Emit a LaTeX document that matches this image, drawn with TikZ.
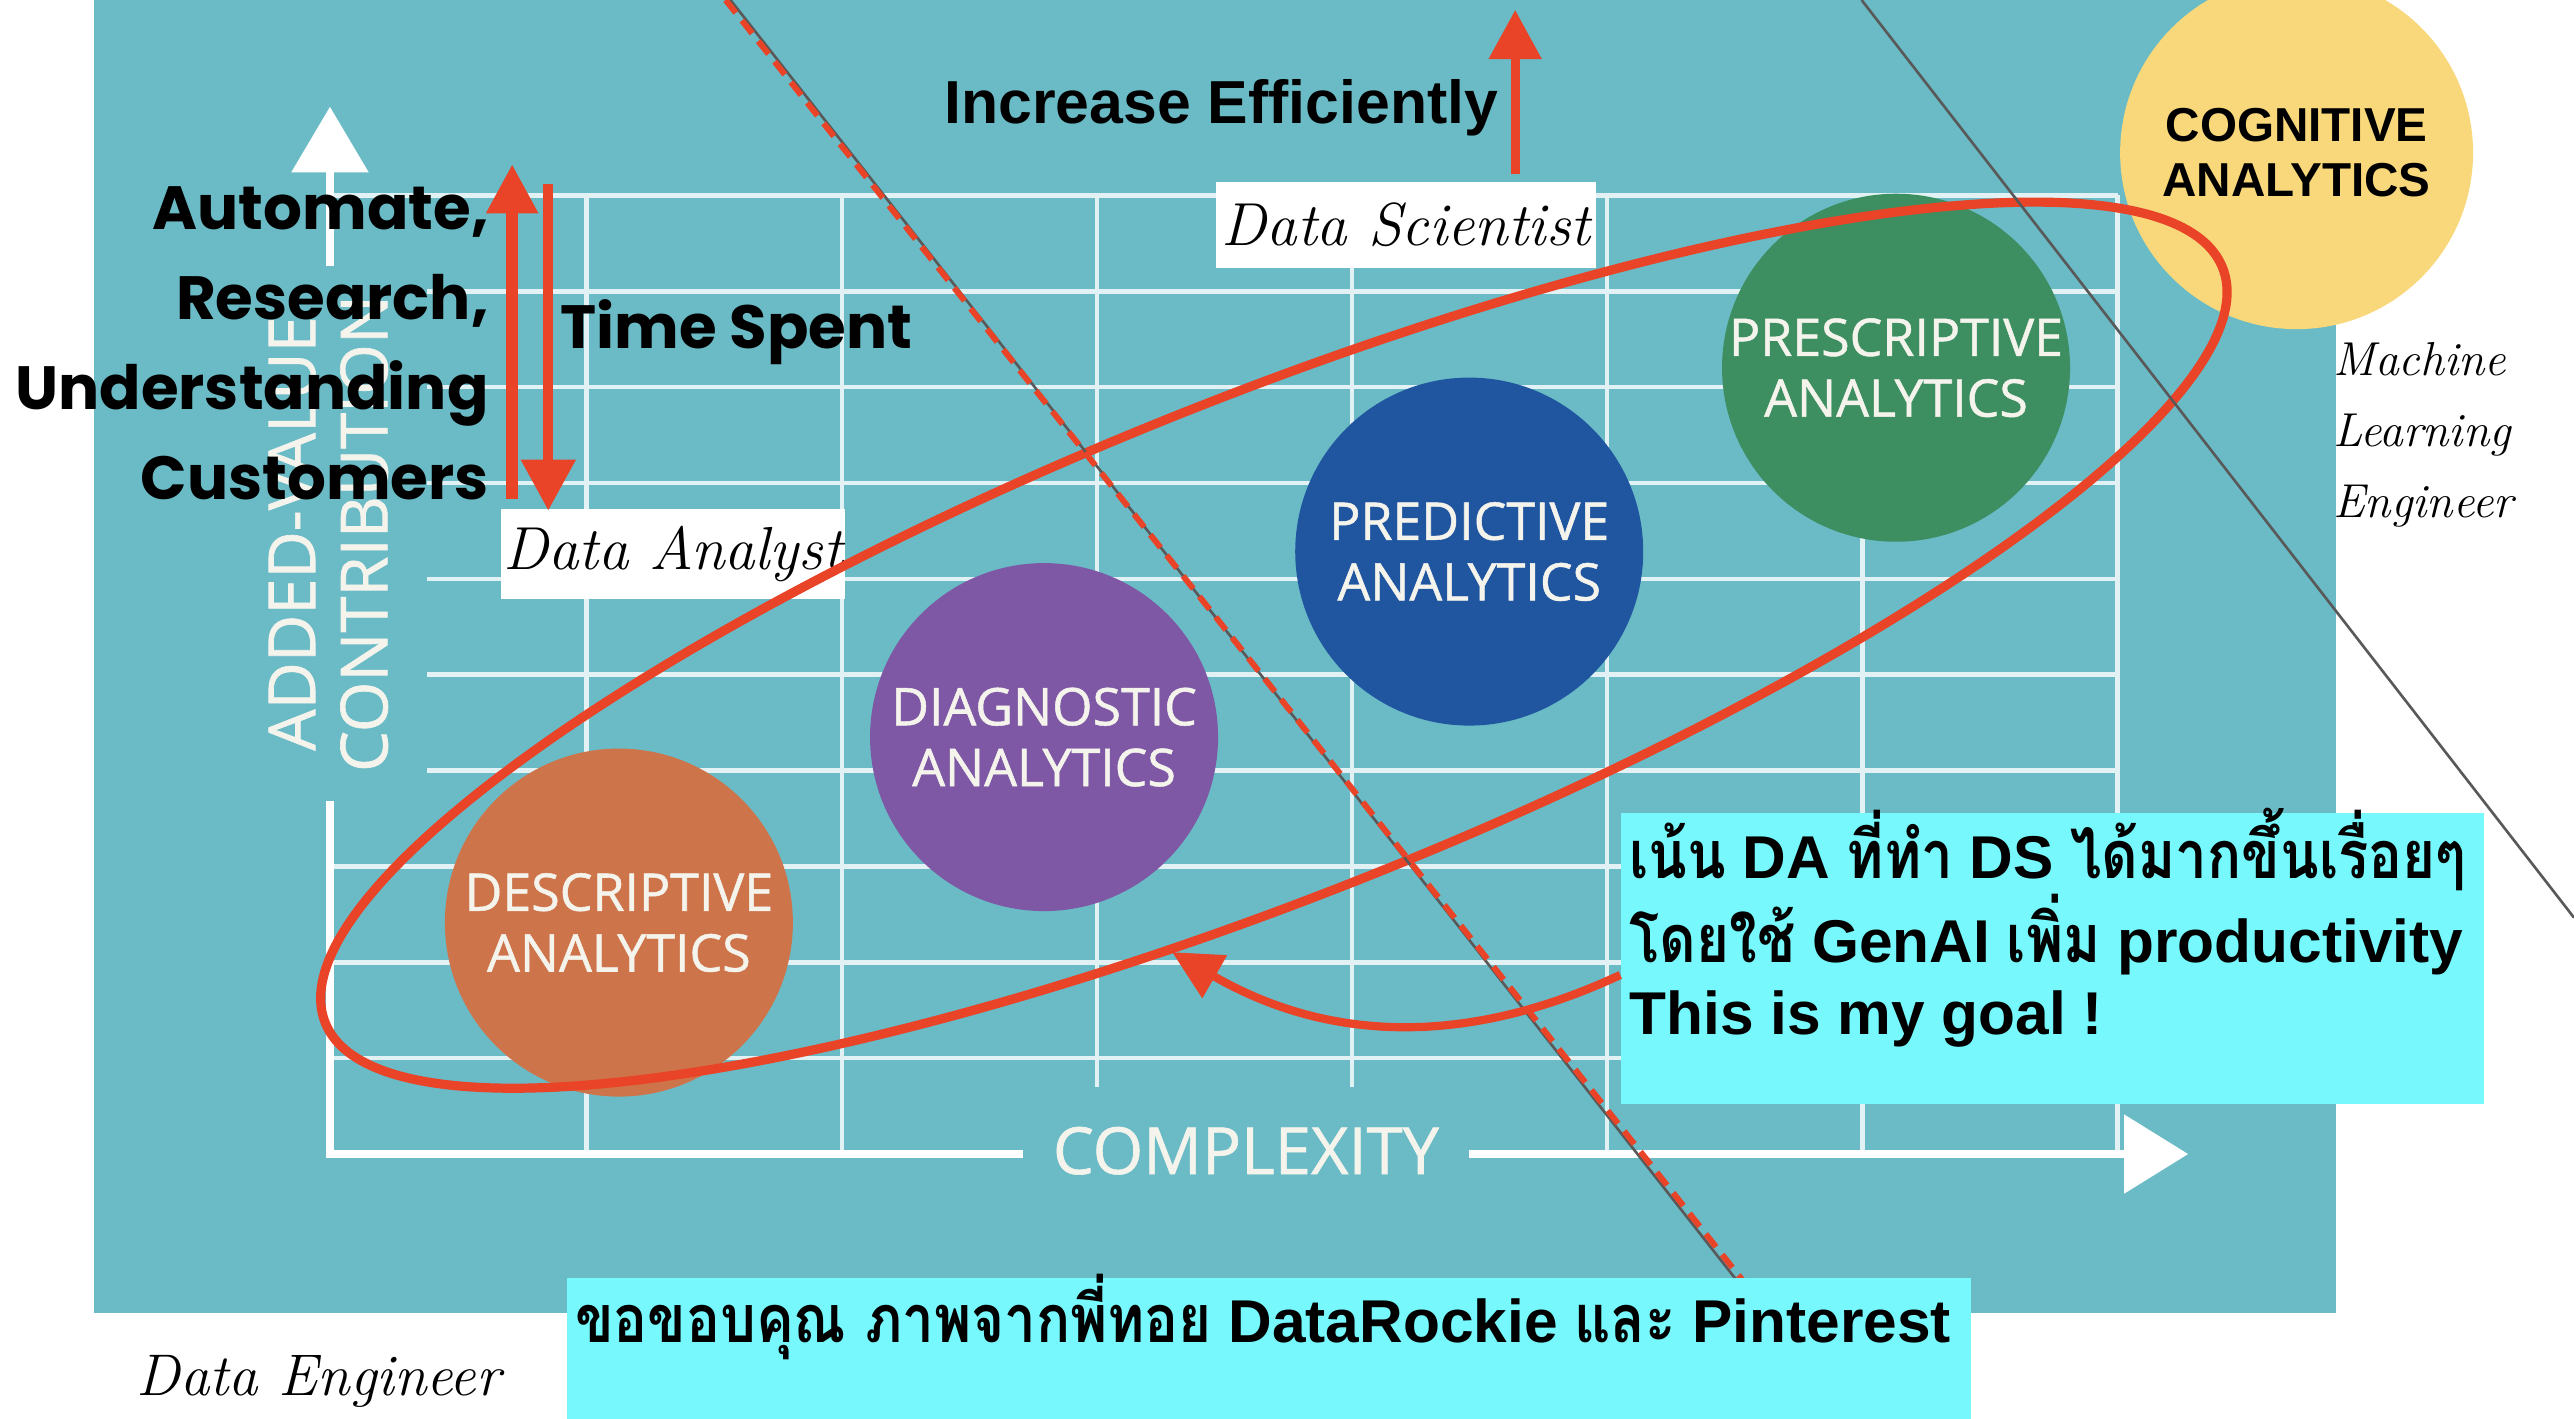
\documentclass[tikz,border=0pt]{standalone}
\usepackage{fontspec}
\usepackage{tikz}
\usetikzlibrary{arrows.meta, positioning}
\newfontfamily\popfont{Poppins}
\newfontfamily\arialfont{Liberation Sans}
\newfontfamily\chartfont[FakeBold=1]{Open Sans}
\newfontfamily\thaifont[Script=Thai, Scale=1.1, FakeStretch=0.85]{Loma}
\newcommand{\thaitxt}[1]{{\thaifont\bfseries #1}}
\definecolor{tealbg}{RGB}{106,187,198}
\definecolor{descorange}{RGB}{206,116,74}
\definecolor{diagpurple}{RGB}{126,88,164}
\definecolor{predblue}{RGB}{32,86,160}
\definecolor{prescgreen}{RGB}{61,142,96}
\definecolor{cogyellow}{RGB}{248,216,122}
\definecolor{markred}{RGB}{233,67,40}
\definecolor{notecyan}{RGB}{118,248,252}
\definecolor{chalk}{RGB}{244,243,236}

\begin{document}
\begin{tikzpicture}[x=0.5pt, y=-0.5pt,
    gridline/.style={draw=white!80!tealbg, line width=1.4pt},
    axisline/.style={draw=white, line width=2.4pt},
    axislabel/.style={fill=tealbg, text=chalk, align=center, font=\chartfont\fontsize{19.8}{22}\selectfont, inner xsep=9pt, inner ysep=12pt},
    bubble/.style={circle, minimum size=106pt, inner sep=0pt, align=center, text=chalk, font=\chartfont\fontsize{15.8}{18.5}\selectfont},
    goalring/.style={draw=markred, line width=2.8pt},
    redarr/.style={draw=markred, line width=3.5pt, -{Triangle[length=15pt, width=15pt]}},
    bendarr/.style={draw=markred, line width=2.5pt, -{Triangle[length=15pt, width=14.5pt]}},
    cutline/.style={draw=black!65, line width=0.8pt},
    cutdash/.style={draw=markred, line width=1.8pt, dash pattern=on 5pt off 3pt},
    popbold/.style={font=\popfont\bfseries\fontsize{18.6}{27.5}\selectfont, inner sep=0pt},
    arialbold/.style={font=\arialfont\bfseries\fontsize{18.5}{22}\selectfont, inner sep=0pt},
    hand/.style={font=\itshape\fontsize{18.5}{21.7}\selectfont, inner sep=0pt},
    namebox/.style={hand, fill=white},
    notebox/.style={fill=notecyan, inner sep=0pt, anchor=north west, font=\arialfont\bfseries\fontsize{18.4}{22}\selectfont}
]
    \useasboundingbox (0,0) rectangle (1568,864);
    \fill[white] (0,0) rectangle (1568,864);
    \fill[tealbg] (57,0) rectangle (1423,800);

    \foreach \row in {0,...,9}
        \draw[gridline] (202,{119+58.4*\row}) -- (1290,{119+58.4*\row});
    \foreach \col in {1,...,7}
        \draw[gridline] ({202+155.4*\col},119) -- ({202+155.4*\col},703);

    \coordinate (yaxtop) at (201,65);
    \coordinate (yaxbot) at (201,703);
    \coordinate (xaxend) at (1333,703);
    \draw[axisline, {Triangle[length=20pt, width=23pt]}-{Triangle[length=19.5pt, width=23.5pt]}] (yaxtop) -- (yaxbot) -- (xaxend);
    \node[axislabel, rotate=90] (yaxlbl) at (200,325) {ADDED-VALUE\\CONTRIBUTION};
    \node[axislabel] (xaxlbl) at (759,701) {COMPLEXITY};

    \node[bubble, fill=descorange] (desc) at (377,562) {DESCRIPTIVE\\ANALYTICS};
    \node[bubble, fill=diagpurple] (diag) at (636,449) {DIAGNOSTIC\\ANALYTICS};
    \node[bubble, fill=predblue] (pred) at (895,336) {PREDICTIVE\\ANALYTICS};
    \node[bubble, fill=prescgreen] (presc) at (1155,224) {PRESCRIPTIVE\\ANALYTICS};
    \node[bubble, fill=cogyellow, minimum size=107.5pt, text=black, font=\arialfont\bfseries\fontsize{14.5}{16.5}\selectfont] (cog) at (1399,93) {COGNITIVE\\ANALYTICS};

    \node[namebox, minimum width=115.5pt, minimum height=26pt] (sci) at (856.5,137) {Data Scientist};
    \node[namebox, minimum width=105pt, minimum height=27.5pt] (analyst) at (410,337.5) {Data Analyst};
    \node[hand, anchor=base west, font=\itshape\fontsize{17.9}{21}\selectfont] (deng) at (83,850) {Data Engineer};
    \node[hand, align=left, anchor=north west, font=\itshape\fontsize{14.5}{21.7}\selectfont] (mle) at (1421,208) {Machine\\Learning\\Engineer};

    \draw[goalring, rotate around={21.7:(776,393)}] (776,393) ellipse [x radius=311pt, y radius=76pt];

    \coordinate (cutatop) at (445,0);
    \coordinate (cutabot) at (1058,780);
    \draw[cutline] (cutatop) -- (cutabot);
    \draw[cutdash] ([xshift=-1.5pt]cutatop) -- ([xshift=1.8pt]cutabot);
    \coordinate (cutbtop) at (1134,0);
    \coordinate (cutbbot) at (1568,559);
    \draw[cutline] (cutbtop) -- (cutbbot);

    \node[popbold, align=right, anchor=north east] (focus) at (298,113) {Automate,\\Research,\\Understanding\\Customers};
    \node[popbold, anchor=base west] (timespent) at (341,212) {Time Spent};
    \node[arialbold, anchor=base east] (effi) at (913,75) {Increase Efficiently};

    \coordinate (focuslo) at (312,304);
    \coordinate (focushi) at (312,100);
    \draw[redarr] (focuslo) -- (focushi);
    \coordinate (timehi) at (334,112);
    \coordinate (timelo) at (334,311);
    \draw[redarr, line width=3pt, -{Triangle[length=15.5pt, width=16pt]}] (timehi) -- (timelo);
    \coordinate (effilo) at (923,106);
    \coordinate (effihi) at (923,6);
    \draw[redarr, line width=2.7pt, -{Triangle[length=15pt, width=15.5pt]}] (effilo) -- (effihi);

    \node[notebox, minimum width=263pt, minimum height=88.5pt] (goal) at (987,495) {\parbox[c][88.5pt][t]{263pt}{\vspace*{-1.7pt}%
        \hbox{\kern-3pt\thaitxt{เน้น} DA \thaitxt{ที่ทำ} DS \thaitxt{ได้มากขึ้นเรื่อยๆ}}
        \hbox{\kern-3pt\thaitxt{โดยใช้} GenAI \thaitxt{เพิ่ม} productivity}
        \hbox{\kern-3pt This is my goal !}}};
    \node[notebox, minimum width=427.5pt, minimum height=46pt] (thanks) at (345,778) {\parbox[c][46pt][t]{427.5pt}{\vspace*{-1.2pt}%
        \hbox{\kern-3.5pt\thaitxt{ขอขอบคุณ ภาพจากพี่ทอย} DataRockie \thaitxt{และ} Pinterest}}};

    \coordinate (goalhit) at (714,580);
    \draw[bendarr] ([yshift=-5pt]goal.west) to[out=205, in=-30] (goalhit);
\end{tikzpicture}
\end{document}
